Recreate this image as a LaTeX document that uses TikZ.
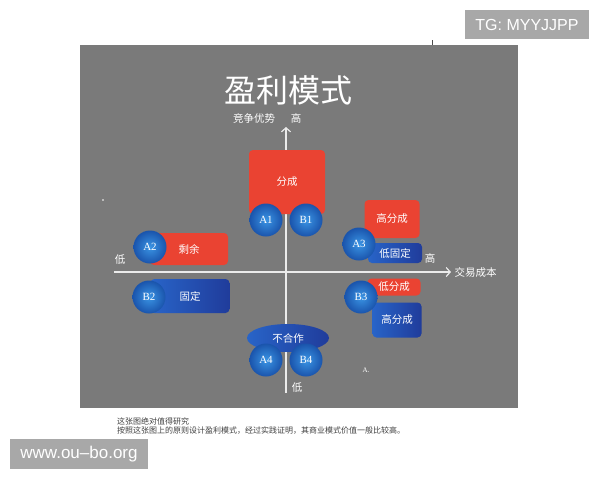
\documentclass[tikz,border=0pt]{standalone}
\usepackage{fontspec}
\setmainfont{Liberation Serif}
\newfontfamily\cjk{Noto Sans CJK SC}
\newfontfamily\wmsans{Liberation Sans}
\usetikzlibrary{shapes.geometric,arrows.meta}
\definecolor{panelgray}{RGB}{122,122,122}
\definecolor{boxred}{RGB}{234,67,50}
\definecolor{boxblueL}{RGB}{40,100,200}
\definecolor{boxblueR}{RGB}{32,60,155}
\definecolor{ballin}{RGB}{58,148,228}
\definecolor{ballout}{RGB}{26,84,172}
\definecolor{wmgray}{RGB}{168,168,168}
\definecolor{axiswhite}{RGB}{235,235,235}
\begin{document}
\begin{tikzpicture}[x=1pt,y=-1pt,
redbox/.style={fill=boxred,rounded corners=4pt,inner sep=0pt,text=white,font=\cjk\fontsize{10.5}{12}\selectfont},
bluebox/.style={left color=boxblueL,right color=boxblueR,rounded corners=4pt,inner sep=0pt,text=white,font=\cjk\fontsize{10.5}{12}\selectfont},
ball/.style={circle,inner sep=0pt,minimum size=33pt,inner color=ballin,outer color=ballout,text=white,font=\fontsize{11}{12}\selectfont},
axislabel/.style={text=white,font=\cjk\fontsize{10.5}{12}\selectfont},
axisline/.style={axiswhite,line width=1.2pt,-{Straight Barb[length=4pt,width=9pt]}},
wmbox/.style={fill=wmgray,text=white,inner sep=0pt,font=\wmsans\fontsize{16}{18}\selectfont}]
\useasboundingbox(0,0) rectangle (600,480);
\fill[white](0,0) rectangle (600,480);
\fill[panelgray](80,45) rectangle (518,408);
\draw[black!70](432,40)--(432,45);
\fill[white](103,200) circle (0.8);
\node[text=white,font=\cjk\fontsize{32}{36}\selectfont] (title) at (288,90) {盈利模式};
\coordinate (ytop) at (286,127);
\coordinate (ybot) at (286,393);
\coordinate (xleft) at (114,272);
\coordinate (xright) at (451,272);
\draw[axisline](ybot)--(ytop);
\draw[axisline](xleft)--(xright);
\node[axislabel,anchor=west] (xname) at (xright) {交易成本};
\node[axislabel] (yname) at (254,118) {竞争优势};
\node[axislabel] (yhigh) at (296,118) {高};
\node[axislabel] (xlow) at (120,260) {低};
\node[axislabel] (xhigh) at (430,258) {高};
\node[axislabel] (ylow) at (297,388) {低};
\node[redbox,minimum width=76pt,minimum height=64pt] (fencheng) at (287,182) {分成};
\node[ball] (A1) at (266,220) {A1};
\node[ball] (B1) at (306,220) {B1};
\node[redbox,minimum width=78pt,minimum height=32pt] (shengyu) at (189,249) {剩余};
\node[ball] (A2) at (150,247) {A2};
\node[bluebox,minimum width=79pt,minimum height=34pt] (guding) at (190,296) {固定};
\node[ball] (B2) at (149,297) {B2};
\node[redbox,minimum width=55pt,minimum height=38pt] (gaofencheng) at (392,219) {高分成};
\node[bluebox,minimum width=54pt,minimum height=20pt] (diguding) at (395,253) {低固定};
\node[ball] (A3) at (359,244) {A3};
\node[redbox,minimum width=53pt,minimum height=17pt] (difencheng) at (394,287) {低分成};
\node[bluebox,minimum width=49pt,minimum height=35pt] (gaofencheng2) at (397,320) {高分成};
\node[ball] (B3) at (361,297) {B3};
\node[ellipse,left color=boxblueL,right color=boxblueR,inner sep=0pt,minimum width=82pt,minimum height=28pt,text=white,font=\cjk\fontsize{10.5}{12}\selectfont] (buhezuo) at (288,338) {不合作};
\node[ball] (A4) at (266,360) {A4};
\node[ball] (B4) at (306,360) {B4};
\node[text=white,font=\fontsize{7}{8}\selectfont] (amark) at (366,370) {A.};
\node[anchor=west,inner sep=0pt,text=black!75,font=\cjk\fontsize{8}{9}\selectfont] (caption1) at (117,421) {这张图绝对值得研究};
\node[anchor=west,inner sep=0pt,text=black!75,font=\cjk\fontsize{8}{9}\selectfont] (caption2) at (117,431) {按照这张图上的原则设计盈利模式，经过实践证明，其商业模式价值一般比较高。};
\node[wmbox,minimum width=124pt,minimum height=29pt] (tg) at (527,24.5) {TG: MYYJJPP};
\node[wmbox,minimum width=138pt,minimum height=30pt,font=\wmsans\fontsize{17}{19}\selectfont] (site) at (79,454) {www.ou–bo.org};
\end{tikzpicture}
\end{document}
